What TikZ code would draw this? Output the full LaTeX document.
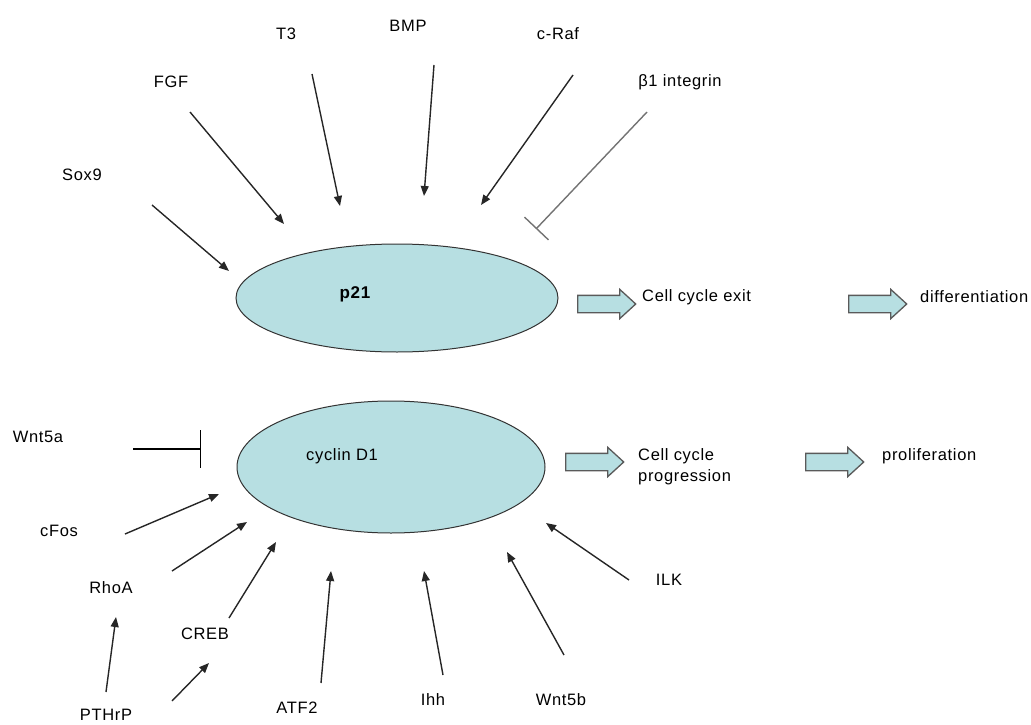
\documentclass[tikz,border=0pt]{standalone}
\usepackage{fontspec}
\setmainfont{Liberation Sans}[LetterSpace=4]
\usepackage{tikz}
\usetikzlibrary{arrows.meta,shapes.geometric,shapes.arrows,positioning}
\usepackage{xcolor}
\definecolor{mcyan}{HTML}{B7DFE2}
\definecolor{mgray}{HTML}{5A5A5A}
\tikzstyle{cell}=[ellipse, draw=black!80, line width=1, fill=mcyan, inner sep=0pt]
\tikzstyle{lbl}=[font=\fontsize{16.5}{21}\selectfont, inner sep=0pt]
\tikzstyle{act}=[line width=1.4, draw=black!85, -{Triangle[length=10pt,width=8pt]}]
\tikzstyle{inh}=[line width=1.4, -{Bar[width=34pt]}]
\tikzstyle{blk}=[single arrow, draw=mgray, line width=1.3, fill=mcyan, minimum height=58pt, inner xsep=0pt, inner ysep=8pt, single arrow head extend=6pt, single arrow tip angle=85]

\begin{document}
\begin{tikzpicture}[x=1pt,y=-1pt]
    \useasboundingbox (0,0) rectangle (1031,725);

    \node[cell, minimum width=322pt, minimum height=108pt] (p21) at (397,298) {};
    \node[cell, minimum width=308pt, minimum height=132pt] (cyc) at (391,467) {};
    \node[lbl, font=\fontsize{17}{21}\selectfont\bfseries] (p21t) at (355,294) {p21};
    \node[lbl] (cyct) at (342,456) {cyclin D1};

    % activators and inhibitors of p21
    \node[lbl] (sox9) at (82,175) {Sox9};
    \node[lbl] (fgf) at (171,82) {FGF};
    \node[lbl] (t3) at (286,34) {T3};
    \node[lbl] (bmp) at (408,26) {BMP};
    \node[lbl] (craf) at (558,34) {c-Raf};
    \node[lbl] (itg) at (680,82) {β1 integrin};
    \coordinate (sox9a) at (152,205); \coordinate (sox9b) at (229,271);
    \coordinate (fgfa) at (190,112);  \coordinate (fgfb) at (284,224);
    \coordinate (t3a) at (312,74);    \coordinate (t3b) at (340,206);
    \coordinate (bmpa) at (434,65);   \coordinate (bmpb) at (424,196);
    \coordinate (crafa) at (573,75);  \coordinate (crafb) at (481,205);
    \coordinate (itga) at (647,112);  \coordinate (itgb) at (536,229);
    \draw[act] (sox9a) -- (sox9b);
    \draw[act] (fgfa) -- (fgfb);
    \draw[act] (t3a) -- (t3b);
    \draw[act] (bmpa) -- (bmpb);
    \draw[act] (crafa) -- (crafb);
    \draw[inh, draw=black!55, -{Bar[width=33pt]}] (itga) -- (itgb);

    % activators and inhibitors of cyclin D1
    \node[lbl] (wnt5a) at (38,437) {Wnt5a};
    \node[lbl] (cfos) at (59,531) {cFos};
    \node[lbl] (rhoa) at (111,588) {RhoA};
    \node[lbl] (pthrp) at (106,715) {PTHrP};
    \node[lbl] (creb) at (205,634) {CREB};
    \node[lbl] (atf2) at (297,708) {ATF2};
    \node[lbl] (ihh) at (433,700) {Ihh};
    \node[lbl] (wnt5b) at (561,700) {Wnt5b};
    \node[lbl] (ilk) at (669,580) {ILK};
    \coordinate (wnt5aa) at (133,449); \coordinate (wnt5ab) at (201,449);
    \coordinate (cfosa) at (125,534);  \coordinate (cfosb) at (219,494);
    \coordinate (rhoaa) at (172,571);  \coordinate (rhoab) at (247,522);
    \coordinate (pthrpa) at (106,692); \coordinate (pthrpb) at (116,617);
    \coordinate (pthrpc) at (172,701); \coordinate (pthrpd) at (209,663);
    \coordinate (creba) at (229,618);  \coordinate (crebb) at (276,542);
    \coordinate (atf2a) at (321,683);  \coordinate (atf2b) at (331,571);
    \coordinate (ihha) at (443,675);   \coordinate (ihhb) at (424,571);
    \coordinate (wnt5ba) at (564,655); \coordinate (wnt5bb) at (507,552);
    \coordinate (ilka) at (629,580);   \coordinate (ilkb) at (546,523);
    \draw[inh, -{Bar[width=38pt]}] (wnt5aa) -- (wnt5ab);
    \draw[act] (cfosa) -- (cfosb);
    \draw[act] (rhoaa) -- (rhoab);
    \draw[act] (pthrpa) -- (pthrpb);
    \draw[act] (pthrpc) -- (pthrpd);
    \draw[act] (creba) -- (crebb);
    \draw[act] (atf2a) -- (atf2b);
    \draw[act] (ihha) -- (ihhb);
    \draw[act] (wnt5ba) -- (wnt5bb);
    \draw[act] (ilka) -- (ilkb);

    % outcomes
    \node[blk] (b1) at (602,304) {};
    \node[lbl, anchor=west] (exit) at (642,297) {Cell cycle exit};
    \node[blk] (b2) at (873,304) {};
    \node[lbl, anchor=west] (diff) at (920,297) {differentiation};
    \node[blk] (b3) at (590,462) {};
    \node[lbl, anchor=west, align=left] (prog) at (638,467) {Cell cycle\\progression};
    \node[blk] (b4) at (830,462) {};
    \node[lbl, anchor=west] (prolif) at (882,456) {proliferation};
\end{tikzpicture}
\end{document}
